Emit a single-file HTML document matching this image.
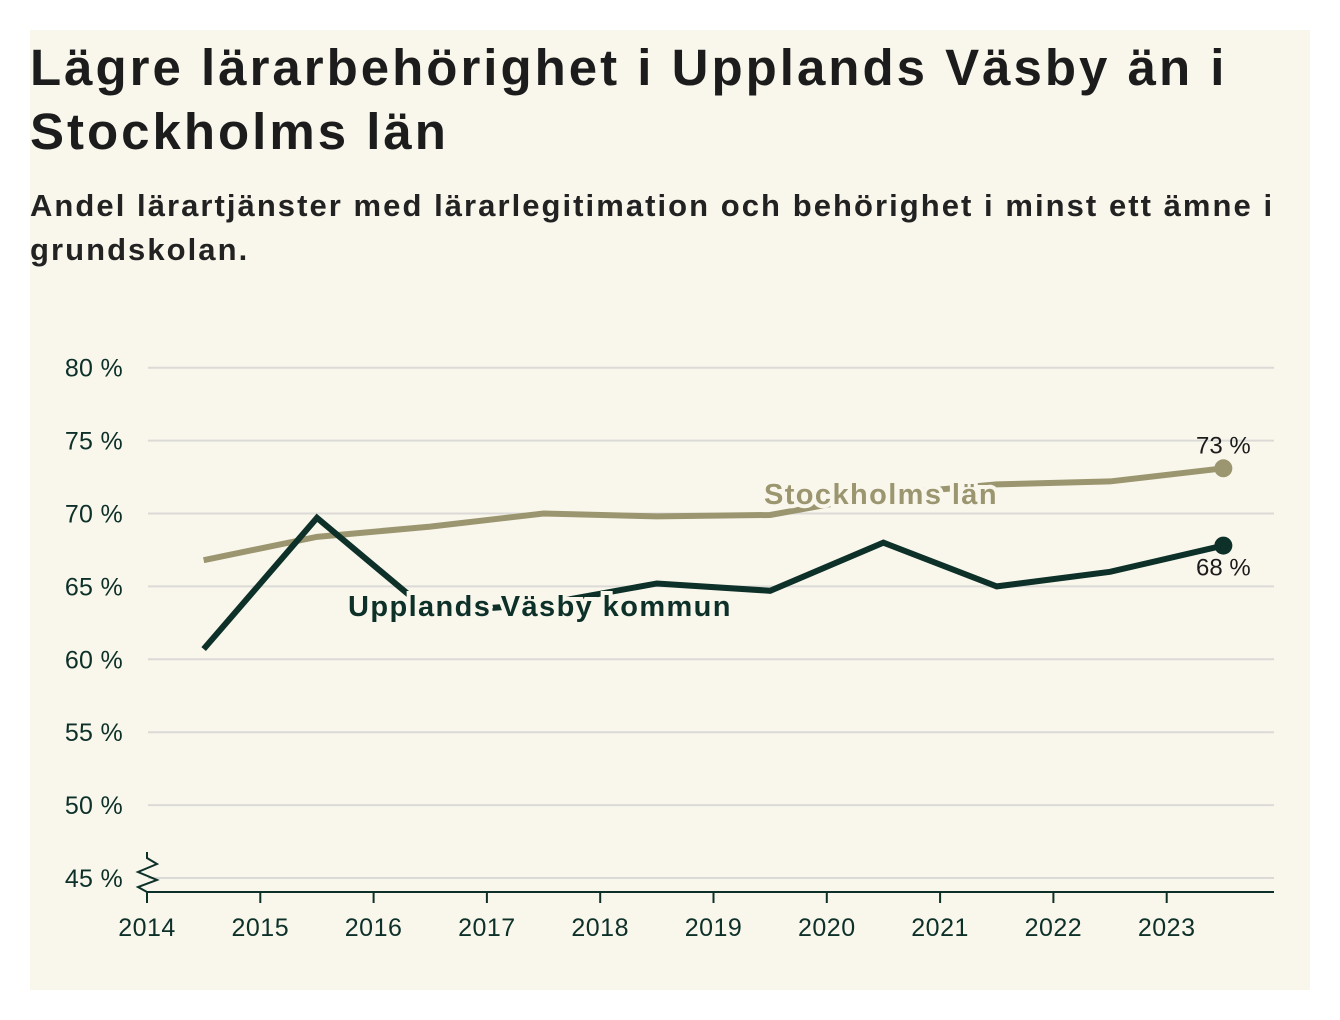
<!DOCTYPE html>
<html><head><meta charset="utf-8"><style>
body{margin:0;background:#fff;width:1340px;height:1020px;overflow:hidden;font-family:"Liberation Sans","DejaVu Sans",sans-serif}
#panel{position:absolute;left:30px;top:30px;width:1280px;height:960px;background:#f9f7ec}
h1{position:absolute;left:0;top:6px;margin:0;font-size:51px;line-height:64px;font-weight:bold;color:#1c1c1c;letter-spacing:3px;white-space:nowrap}
h2{position:absolute;left:0;top:154px;margin:0;font-size:31px;line-height:44px;font-weight:bold;color:#222;width:1290px;letter-spacing:2.05px}
svg{position:absolute;left:0;top:0}
</style></head><body>
<div id="panel">
<h1>Lägre lärarbehörighet i Upplands Väsby än i<br>Stockholms län</h1>
<h2>Andel lärartjänster med lärarlegitimation och behörighet i minst ett ämne i grundskolan.</h2>
</div>
<svg id="chart" width="1340" height="1020"></svg>
<script>
const years=[2014,2015,2016,2017,2018,2019,2020,2021,2022,2023];
const yTicks=[45,50,55,60,65,70,75,80];
const xVals=[2014.5,2015.5,2016.5,2017.5,2018.5,2019.5,2020.5,2021.5,2022.5,2023.5];
const stockholm=[66.8,68.4,69.1,70.0,69.8,69.9,71.3,72.0,72.2,73.1];
const vasby=[60.7,69.7,63.2,63.8,65.2,64.7,68.0,65.0,66.0,67.8];
const NS="http://www.w3.org/2000/svg";
const svg=document.getElementById('chart');
const x=v=>147+(v-2014)*113.3;
const y=v=>878-(v-45)*14.58;
function mk(t,a,txt){const e=document.createElementNS(NS,t);for(const k in a)e.setAttribute(k,a[k]);if(txt!==undefined)e.textContent=txt;svg.appendChild(e);return e;}
yTicks.forEach(t=>{
 const g=mk('line',{x1:148,x2:1274,y1:y(t),y2:y(t),stroke:'#dcdad6','stroke-width':2});
 
 
 const l=mk('text',{x:123,y:y(t)+9,'text-anchor':'end','font-size':25,fill:'#0d3029','letter-spacing':0.3},t+' %');
 
 
});
const ax=mk('line',{x1:147,x2:1274,y1:892,y2:892,stroke:'#0d3029','stroke-width':2});


const br=mk('path',{d:'M147,852 L147,858 L157,864 L138,872 L157,880 L138,887 L147,892',fill:'none',stroke:'#0d3029','stroke-width':2});


years.forEach(t=>{
 const tk=mk('line',{x1:x(t),x2:x(t),y1:892,y2:903,stroke:'#0d3029','stroke-width':2});
 
 
 const l=mk('text',{x:x(t),y:936,'text-anchor':'middle','font-size':25,fill:'#0d3029','letter-spacing':0.5},t);
 
 
});
function line(data,col,name){
 const p=mk('polyline',{points:data.map((v,i)=>x(xVals[i])+','+y(v)).join(' '),fill:'none',stroke:col,'stroke-width':6,'stroke-linejoin':'miter'});
 
 
 const n=data.length-1;
 const c=mk('circle',{cx:x(xVals[n]),cy:y(data[n]),r:9,fill:col});
 
 
}
line(stockholm,'#9b9670','stockholm-line');
line(vasby,'#0d3029','vasby-line');
const l1=mk('text',{x:764,y:504,'font-size':29,'font-weight':'bold','letter-spacing':1.4,fill:'#9b9670',stroke:'#f9f7ec','stroke-width':8,'paint-order':'stroke'},'Stockholms län');


const l2=mk('text',{x:348,y:616,'font-size':29,'font-weight':'bold','letter-spacing':1.4,fill:'#0d3029',stroke:'#f9f7ec','stroke-width':8,'paint-order':'stroke'},'Upplands Väsby kommun');


const v1=mk('text',{x:x(xVals[9]),y:y(stockholm[9])-15,'text-anchor':'middle','font-size':24,fill:'#1c1c1c'},Math.round(stockholm[9])+' %');


const v2=mk('text',{x:x(xVals[9]),y:y(vasby[9])+30,'text-anchor':'middle','font-size':24,fill:'#1c1c1c'},Math.round(vasby[9])+' %');


</script>
</body></html>
